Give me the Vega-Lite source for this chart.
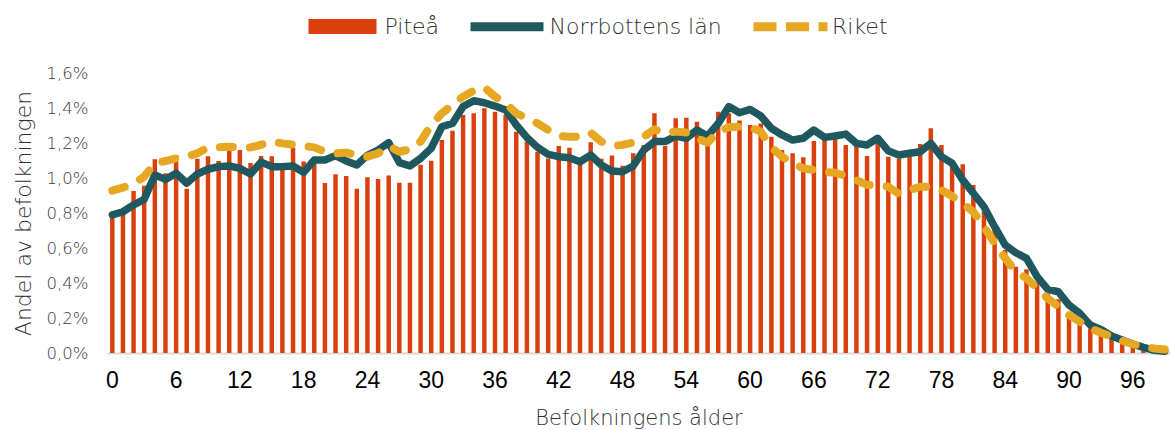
{
"$schema": "https://vega.github.io/schema/vega-lite/v6.json",
"width": 1063, "height": 280,
"autosize": {"type": "none"},
"padding": {"left": 107, "top": 73, "right": 1, "bottom": 77},
"background": "white",
"config": {"view": {"stroke": null}, "font": "DejaVu Sans",
  "axisY": {"values": [0,0.2,0.4,0.6,0.8,1.0,1.2,1.4,1.6], "labelOverlap": false,
    "labelExpr": "replace(format(datum.value,'.1f'),'.',',') + '%'",
    "grid": false, "domain": false, "ticks": false,
    "labelFont": "DejaVu Sans", "labelFontSize": 16.5, "labelFontWeight": 200, "labelColor": "#3a3a3a", "labelPadding": 19,
    "titleFont": "DejaVu Sans", "titleFontSize": 22, "titleColor": "#303030", "titleFontWeight": 200, "titlePadding": 11}
},
"data": {"values": [
{"age":0,"p":0.807,"n":0.789,"r":0.928},
{"age":1,"p":0.81,"n":0.807,"r":0.945},
{"age":2,"p":0.926,"n":0.846,"r":0.966},
{"age":3,"p":0.956,"n":0.878,"r":1.008},
{"age":4,"p":1.107,"n":1.017,"r":1.084},
{"age":5,"p":1.027,"n":0.992,"r":1.097},
{"age":6,"p":1.131,"n":1.027,"r":1.112},
{"age":7,"p":0.939,"n":0.970,"r":1.122},
{"age":8,"p":1.110,"n":1.023,"r":1.141},
{"age":9,"p":1.124,"n":1.050,"r":1.175},
{"age":10,"p":1.097,"n":1.065,"r":1.175},
{"age":11,"p":1.156,"n":1.069,"r":1.179},
{"age":12,"p":1.160,"n":1.055,"r":1.175},
{"age":13,"p":1.086,"n":1.023,"r":1.175},
{"age":14,"p":1.126,"n":1.091,"r":1.19},
{"age":15,"p":1.124,"n":1.065,"r":1.208},
{"age":16,"p":1.065,"n":1.065,"r":1.198},
{"age":17,"p":1.173,"n":1.069,"r":1.19},
{"age":18,"p":1.095,"n":1.032,"r":1.183},
{"age":19,"p":1.084,"n":1.103,"r":1.175},
{"age":20,"p":0.971,"n":1.103,"r":1.150},
{"age":21,"p":1.021,"n":1.128,"r":1.14},
{"age":22,"p":1.011,"n":1.097,"r":1.145},
{"age":23,"p":0.939,"n":1.074,"r":1.131},
{"age":24,"p":1.004,"n":1.13,"r":1.122},
{"age":25,"p":0.994,"n":1.160,"r":1.141},
{"age":26,"p":1.015,"n":1.202,"r":1.183},
{"age":27,"p":0.973,"n":1.088,"r":1.150},
{"age":28,"p":0.973,"n":1.069,"r":1.164},
{"age":29,"p":1.076,"n":1.112,"r":1.208},
{"age":30,"p":1.099,"n":1.170,"r":1.303},
{"age":31,"p":1.217,"n":1.293,"r":1.370},
{"age":32,"p":1.270,"n":1.312,"r":1.417},
{"age":33,"p":1.36,"n":1.408,"r":1.465},
{"age":34,"p":1.370,"n":1.442,"r":1.499},
{"age":35,"p":1.398,"n":1.430,"r":1.518},
{"age":36,"p":1.379,"n":1.411,"r":1.465},
{"age":37,"p":1.36,"n":1.389,"r":1.427},
{"age":38,"p":1.265,"n":1.303,"r":1.370},
{"age":39,"p":1.208,"n":1.232,"r":1.341},
{"age":40,"p":1.150,"n":1.175,"r":1.312},
{"age":41,"p":1.112,"n":1.135,"r":1.274},
{"age":42,"p":1.183,"n":1.122,"r":1.240},
{"age":43,"p":1.173,"n":1.116,"r":1.236},
{"age":44,"p":1.084,"n":1.093,"r":1.236},
{"age":45,"p":1.204,"n":1.131,"r":1.259},
{"age":46,"p":1.110,"n":1.074,"r":1.208},
{"age":47,"p":1.128,"n":1.040,"r":1.183},
{"age":48,"p":1.070,"n":1.036,"r":1.189},
{"age":49,"p":1.141,"n":1.069,"r":1.202},
{"age":50,"p":1.189,"n":1.160,"r":1.236},
{"age":51,"p":1.370,"n":1.208,"r":1.278},
{"age":52,"p":1.183,"n":1.208,"r":1.255},
{"age":53,"p":1.341,"n":1.240,"r":1.265},
{"age":54,"p":1.345,"n":1.227,"r":1.26},
{"age":55,"p":1.322,"n":1.274,"r":1.227},
{"age":56,"p":1.217,"n":1.240,"r":1.202},
{"age":57,"p":1.379,"n":1.312,"r":1.265},
{"age":58,"p":1.37,"n":1.408,"r":1.290},
{"age":59,"p":1.328,"n":1.373,"r":1.293},
{"age":60,"p":1.303,"n":1.392,"r":1.29},
{"age":61,"p":1.312,"n":1.354,"r":1.265},
{"age":62,"p":1.236,"n":1.284,"r":1.175},
{"age":63,"p":1.160,"n":1.246,"r":1.122},
{"age":64,"p":1.141,"n":1.217,"r":1.084},
{"age":65,"p":1.118,"n":1.227,"r":1.055},
{"age":66,"p":1.211,"n":1.274,"r":1.046},
{"age":67,"p":1.22,"n":1.232,"r":1.036},
{"age":68,"p":1.221,"n":1.240,"r":1.030},
{"age":69,"p":1.189,"n":1.251,"r":1.011},
{"age":70,"p":1.19,"n":1.198,"r":0.989},
{"age":71,"p":1.126,"n":1.189,"r":0.960},
{"age":72,"p":1.227,"n":1.227,"r":0.96},
{"age":73,"p":1.122,"n":1.155,"r":0.95},
{"age":74,"p":1.112,"n":1.131,"r":0.909},
{"age":75,"p":1.122,"n":1.141,"r":0.931},
{"age":76,"p":1.194,"n":1.150,"r":0.950},
{"age":77,"p":1.284,"n":1.198,"r":0.95},
{"age":78,"p":1.189,"n":1.122,"r":0.931},
{"age":79,"p":1.084,"n":1.084,"r":0.897},
{"age":80,"p":1.078,"n":0.989,"r":0.855},
{"age":81,"p":0.960,"n":0.913,"r":0.807},
{"age":82,"p":0.807,"n":0.836,"r":0.722},
{"age":83,"p":0.703,"n":0.722,"r":0.627},
{"age":84,"p":0.589,"n":0.617,"r":0.541},
{"age":85,"p":0.493,"n":0.573,"r":0.465},
{"age":86,"p":0.478,"n":0.541,"r":0.427},
{"age":87,"p":0.408,"n":0.436,"r":0.370},
{"age":88,"p":0.341,"n":0.364,"r":0.312},
{"age":89,"p":0.307,"n":0.350,"r":0.265},
{"age":90,"p":0.227,"n":0.274,"r":0.217},
{"age":91,"p":0.198,"n":0.227,"r":0.179},
{"age":92,"p":0.141,"n":0.160,"r":0.141},
{"age":93,"p":0.122,"n":0.135,"r":0.116},
{"age":94,"p":0.093,"n":0.097,"r":0.093},
{"age":95,"p":0.065,"n":0.074,"r":0.070},
{"age":96,"p":0.046,"n":0.051,"r":0.051},
{"age":97,"p":0.027,"n":0.032,"r":0.036},
{"age":98,"p":0.02,"n":0.015,"r":0.026},
{"age":99,"p":0.01,"n":0.01,"r":0.02}
]},
"encoding": {
  "x": {"field": "age", "type": "ordinal",
    "scale": {"paddingInner": 0, "paddingOuter": 0},
    "axis": {"title": "Befolkningens ålder", "values": [0,6,12,18,24,30,36,42,48,54,60,66,72,78,84,90,96],
      "labelAngle": 0, "ticks": false, "grid": false, "labelOverlap": false,
      "labelFont": "Liberation Sans", "labelFontSize": 23, "labelColor": "#000000", "labelPadding": 16,
      "domainColor": "#d9d9d9", "domainWidth": 2,
      "titleFont": "DejaVu Sans", "titleFontSize": 21, "titleColor": "#303030", "titleFontWeight": 200, "titlePadding": 15}
  }
},
"layer": [
  {
    "mark": {"type": "bar", "width": {"band": 0.42}},
    "encoding": {
      "y": {"field": "p", "type": "quantitative", "title": "Andel av befolkningen",
        "scale": {"domain": [0, 1.6]}},
      "color": {"datum": "Piteå", "type": "nominal", "scale": {"range": ["#D9400E"]},
        "legend": {"orient": "none", "legendX": 201.5, "legendY": -80.5, "title": null, "padding": 0,
          "symbolType": "M-1,-0.22H1V0.22H-1Z", "symbolSize": 4624, "symbolStrokeWidth": 0,
          "labelFont": "DejaVu Sans", "labelFontSize": 22, "labelFontWeight": 200, "labelColor": "#303030", "labelOffset": 8, "labelLimit": 400}}
    }
  },
  {
    "mark": {"type": "line", "strokeWidth": 7.5, "strokeJoin": "round", "strokeCap": "round"},
    "encoding": {
      "y": {"field": "n", "type": "quantitative", "title": "Andel av befolkningen"},
      "color": {"datum": "Norrbottens län", "type": "nominal", "scale": {"range": ["#1F585E"]},
        "legend": {"orient": "none", "legendX": 359, "legendY": -87.3, "title": null, "padding": 0,
          "symbolType": "stroke", "symbolSize": 5329, "symbolStrokeWidth": 9,
          "labelFont": "DejaVu Sans", "labelFontSize": 22, "labelFontWeight": 200, "labelColor": "#303030", "labelOffset": 1.5, "labelLimit": 400}}
    }
  },
  {
    "mark": {"type": "line", "strokeWidth": 8, "strokeJoin": "round", "strokeCap": "round", "strokeDash": [13, 17]},
    "encoding": {
      "y": {"field": "r", "type": "quantitative", "title": "Andel av befolkningen"},
      "color": {"datum": "Riket", "type": "nominal", "scale": {"range": ["#E6A822"]},
        "legend": {"orient": "none", "legendX": 642, "legendY": -87.8, "title": null, "padding": 0,
          "symbolType": "stroke", "symbolSize": 5476, "symbolStrokeWidth": 9, "symbolDash": [23, 9.5],
          "labelFont": "DejaVu Sans", "labelFontSize": 22, "labelFontWeight": 200, "labelColor": "#303030", "labelOffset": 0, "labelLimit": 400}}
    }
  }
],
"resolve": {"scale": {"color": "independent"}, "legend": {"color": "independent"}}
}
